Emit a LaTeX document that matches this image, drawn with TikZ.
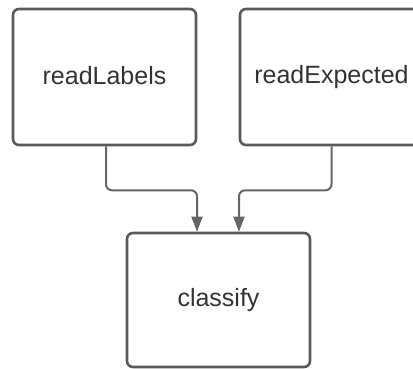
\documentclass[tikz,border=0pt]{standalone}
\usepackage{fontspec}
\setmainfont{Liberation Sans}
\usetikzlibrary{arrows.meta}
\definecolor{boxline}{HTML}{5A5A5A}
\definecolor{txt}{HTML}{333333}
\definecolor{conncol}{HTML}{666666}
\tikzset{
  procbox/.style={draw=boxline, line width=2.6pt, rounded corners=6pt, fill=white,
    minimum width=183pt, minimum height=136pt, inner sep=0pt,
    font=\fontsize{25pt}{28pt}\selectfont, text=txt},
  conn/.style={draw=conncol, line width=2pt, rounded corners=6pt,
    -{Triangle[length=15pt, width=11pt]}}
}
\begin{document}
\begin{tikzpicture}[x=1pt, y=-1pt]
\useasboundingbox (0,0) rectangle (413,369);
\clip (0,0) rectangle (413,369);
\node[procbox] (A) at (104.5,77) {\raisebox{3pt}{readLabels}};
\node[procbox] (B) at (331.5,77) {\raisebox{3pt}{readExpected}};
\node[procbox, minimum height=134pt] (C) at (218.5,300) {\raisebox{2pt}{classify}};
\draw[conn] ([xshift=1.5pt]A.south) -- ++(0,44) -| ([xshift=-21.5pt]C.north);
\draw[conn] (B.south) -- ++(0,44) -| ([xshift=20.5pt]C.north);
\end{tikzpicture}
\end{document}
